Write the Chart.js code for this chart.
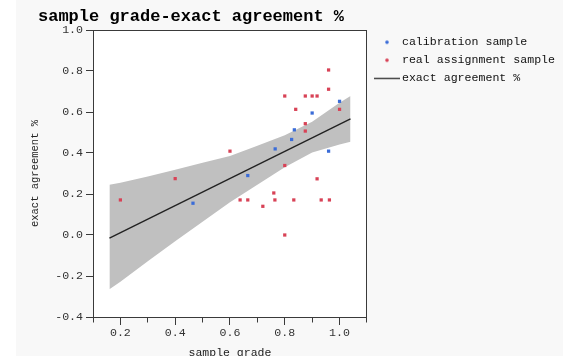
<!DOCTYPE html>
<html>
<head>
<meta charset="utf-8">
<script src="https://cdn.jsdelivr.net/npm/chart.js@4/dist/chart.umd.min.js"></script>
<style>
html,body{margin:0;padding:0;background:#fff;}
#wrap{position:relative;width:563px;height:356px;background:linear-gradient(to right,#ffffff 16px,#f8f8f8 16px);}
canvas{display:block;}
</style>
</head>
<body>
<div id="wrap"><canvas id="c" width="563" height="356"></canvas></div>
<script>
// ---- text ----
const titleText = 'sample grade-exact agreement %';
const xTitle = 'sample grade';
const yTitle = 'exact agreement %';
const seriesNames = ['calibration sample', 'real assignment sample', 'exact agreement %'];

// ---- data ----
const calibX = [0.465, 0.665, 0.765, 0.825, 0.835, 0.90, 0.96, 1.00];
const calibY = [0.155, 0.29, 0.42, 0.466, 0.513, 0.595, 0.409, 0.652];

const realX = [0.20, 0.40, 0.60, 0.80, 0.875, 0.90, 0.918, 0.96, 0.96, 0.84, 1.00, 0.875, 0.875, 0.80, 0.918, 0.76, 0.637, 0.665, 0.764, 0.833, 0.933, 0.963, 0.72, 0.80];
const realY = [0.171, 0.275, 0.409, 0.678, 0.678, 0.678, 0.678, 0.711, 0.805, 0.613, 0.613, 0.543, 0.507, 0.339, 0.274, 0.205, 0.171, 0.171, 0.171, 0.171, 0.171, 0.171, 0.14, 0.0];

const fitX = [0.16, 1.04];
const fitY = [-0.015, 0.567];

const bandX     = [0.16,   0.20,   0.30,   0.40,  0.50,  0.60,  0.70,  0.80,  0.90,  1.00,  1.04];
const bandUpper = [0.245,  0.255,  0.285,  0.318, 0.352, 0.385, 0.435, 0.487, 0.553, 0.645, 0.678];
const bandLower = [-0.265, -0.228, -0.128, -0.03, 0.065, 0.16,  0.245, 0.331, 0.402, 0.441, 0.455];

// ---- ticks ----
const xTickValues  = [0.1, 0.2, 0.3, 0.4, 0.5, 0.6, 0.7, 0.8, 0.9, 1.0, 1.1];
const xLabelValues = [0.2, 0.4, 0.6, 0.8, 1.0];
const yTickValues  = [-0.4, -0.2, 0.0, 0.2, 0.4, 0.6, 0.8, 1.0];

const FONT = 'Liberation Mono';
const AXIS = '#3a3a3a';
const BLUE = 'rgb(58,108,216)';
const RED = 'rgb(216,66,86)';

const pts = (xs, ys) => xs.map((x, i) => ({x: x, y: ys[i]}));
const isMajor = v => xLabelValues.some(m => Math.abs(m - v) < 1e-9);

function makeDot(color) {
  const c = document.createElement('canvas');
  c.width = 6; c.height = 6;
  const g = c.getContext('2d');
  g.fillStyle = color; g.beginPath(); g.arc(3, 3, 1.8, 0, Math.PI * 2); g.fill();
  return c;
}
function makeLine(color) {
  const c = document.createElement('canvas');
  c.width = 26; c.height = 3;
  const g = c.getContext('2d');
  g.fillStyle = color; g.fillRect(0, 1, 26, 1.2);
  return c;
}
const legendMarkers = [makeDot(BLUE), makeDot(RED), makeLine('#222')];

const bgPlugin = {
  id: 'plotBg',
  beforeDraw(chart) {
    const a = chart.chartArea, ctx = chart.ctx;
    ctx.save(); ctx.fillStyle = '#ffffff';
    ctx.fillRect(a.left, a.top, a.right - a.left, a.bottom - a.top);
    ctx.restore();
  }
};
const titlePlugin = {
  id: 'topTitle',
  afterDraw(chart) {
    const ctx = chart.ctx;
    ctx.save();
    ctx.font = 'bold 17px "' + FONT + '"';
    ctx.fillStyle = '#000';
    ctx.textAlign = 'center';
    ctx.textBaseline = 'middle';
    ctx.fillText(titleText, 191, 17);
    ctx.restore();
  }
};

new Chart(document.getElementById('c'), {
  type: 'scatter',
  data: {
    datasets: [
      { label: seriesNames[0], data: pts(calibX, calibY), pointStyle: 'rect', pointRadius: 2.3, pointBackgroundColor: BLUE, pointBorderWidth: 0, showLine: false },
      { label: seriesNames[1], data: pts(realX, realY), pointStyle: 'rect', pointRadius: 2.3, pointBackgroundColor: RED, pointBorderWidth: 0, showLine: false },
      { label: seriesNames[2], data: pts(fitX, fitY), showLine: true, borderColor: '#222', borderWidth: 1.4, pointRadius: 0, fill: false },
      { label: 'upper', data: pts(bandX, bandUpper), showLine: true, borderWidth: 0, borderColor: 'rgba(0,0,0,0)', pointRadius: 0, fill: false },
      { label: 'lower', data: pts(bandX, bandLower), showLine: true, borderWidth: 0, borderColor: 'rgba(0,0,0,0)', pointRadius: 0, fill: '-1', backgroundColor: 'rgb(192,192,192)' }
    ]
  },
  options: {
    responsive: false,
    animation: false,
    layout: { padding: { left: 25, top: 30, right: -2, bottom: 0 } },
    plugins: {
      title: { display: false },
      tooltip: { enabled: false },
      legend: {
        display: true,
        position: 'right',
        align: 'start',
        maxWidth: 320,
        labels: {
          usePointStyle: true,
          pointStyleWidth: 18.4,
          boxHeight: 4,
          padding: 6.4,
          color: '#111',
          font: { family: FONT, size: 11.6 },
          filter: item => item.datasetIndex < 3,
          generateLabels(chart) {
            const items = Chart.defaults.plugins.legend.labels.generateLabels(chart);
            items.forEach(it => { it.pointStyle = legendMarkers[it.datasetIndex] || 'circle'; });
            return items;
          }
        }
      }
    },
    scales: {
      x: {
        type: 'linear', position: 'bottom', min: 0.1, max: 1.1,
        afterBuildTicks: s => { s.ticks = xTickValues.map(v => ({ value: v })); },
        afterFit: s => { s.height = 39; },
        ticks: {
          autoSkip: false, maxRotation: 0, padding: 1, color: '#333',
          font: { family: FONT, size: 11.6 },
          callback: v => isMajor(v) ? v.toFixed(1) : ''
        },
        grid: {
          drawOnChartArea: false, tickLength: 8, tickColor: AXIS, tickWidth: 1,
          tickBorderDash: ctx => (ctx.tick && isMajor(ctx.tick.value)) ? [] : [4.5, 20]
        },
        border: { color: AXIS, width: 1 },
        title: { display: true, text: xTitle, color: '#222', padding: 0, font: { family: FONT, size: 11.5, lineHeight: 0.45 } }
      },
      y: {
        type: 'linear', position: 'left', min: -0.4, max: 1.0,
        afterBuildTicks: s => { s.ticks = yTickValues.map(v => ({ value: v })); },
        afterFit: s => { s.width = 68; },
        ticks: { autoSkip: false, padding: 3, color: '#333', font: { family: FONT, size: 11.6 }, callback: v => v.toFixed(1) },
        grid: { drawOnChartArea: false, tickLength: 7, tickColor: AXIS, tickWidth: 1 },
        border: { color: AXIS, width: 1 },
        title: { display: true, text: yTitle, color: '#222', padding: { top: 4, bottom: 0 }, font: { family: FONT, size: 10.5 } }
      },
      x2: {
        type: 'linear', position: 'top', min: 0.1, max: 1.1, display: true,
        afterFit: s => { s.height = 0; },
        ticks: { display: false },
        grid: { drawOnChartArea: false, drawTicks: false },
        border: { color: AXIS, width: 1 }
      },
      y2: {
        type: 'linear', position: 'right', min: -0.4, max: 1.0, display: true,
        afterFit: s => { s.width = 4.4; },
        ticks: { display: false },
        grid: { drawOnChartArea: false, drawTicks: false },
        border: { color: AXIS, width: 1 }
      }
    }
  },
  plugins: [bgPlugin, titlePlugin]
});
</script>
</body>
</html>
